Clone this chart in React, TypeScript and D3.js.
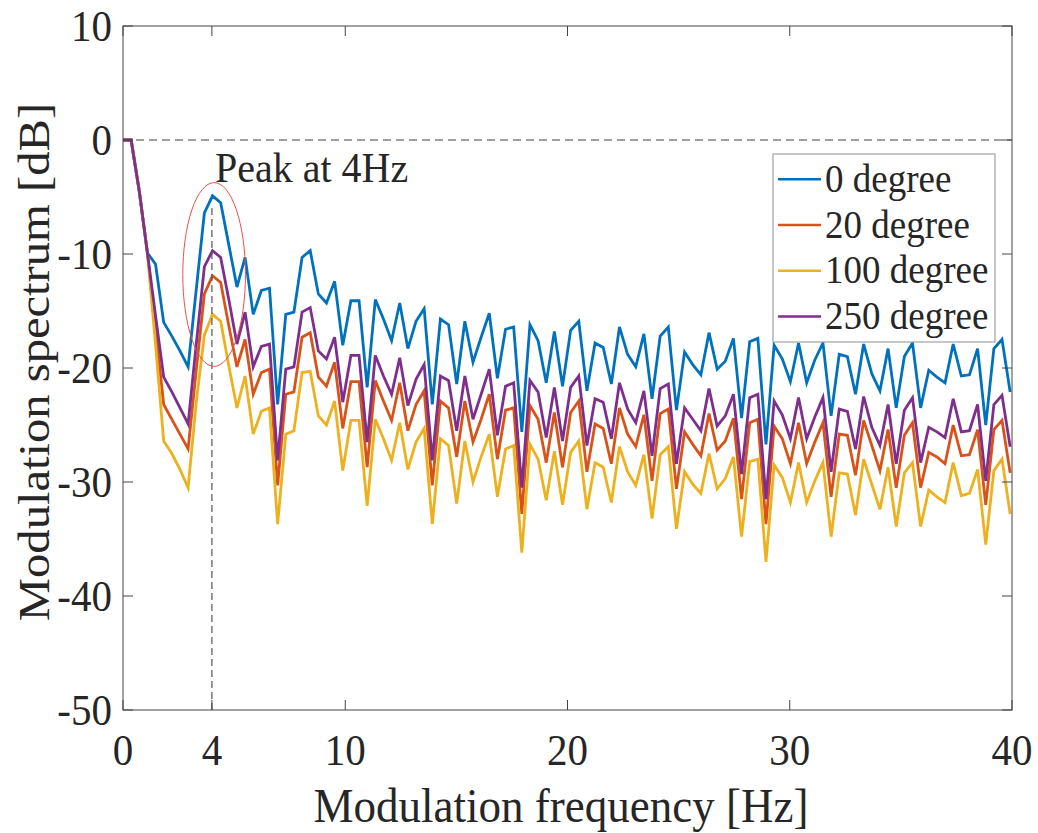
import React from "react";
import * as d3 from "d3";

// frequency bin spacing (Hz)
const DF = 0.36621;

const blue0 = [0,0,-4.5,-9.9,-10.9,-16.0,-17.2,-18.5,-19.9,-13.1,-6.4,-4.9,-5.5,-9.2,-12.9,-10.3,-15.3,-13.2,-13.0,-23.2,-15.3,-15.1,-10.3,-9.7,-13.5,-14.3,-12.4,-18.0,-14.1,-14.1,-21.7,-14.0,-15.7,-17.6,-14.3,-18.3,-15.9,-14.8,-23.2,-15.7,-16.2,-21.4,-15.9,-19.5,-17.3,-15.2,-20.9,-16.6,-16.4,-25.6,-16.2,-17.6,-21.3,-16.8,-21.6,-16.7,-15.9,-22.0,-17.8,-18.2,-21.4,-16.4,-18.8,-19.9,-17.0,-22.7,-17.2,-16.4,-23.7,-18.6,-19.7,-20.6,-16.9,-20.1,-19.4,-17.4,-24.4,-17.7,-17.4,-26.7,-18.0,-19.2,-21.2,-17.8,-21.3,-19.3,-17.8,-24.2,-18.8,-19.0,-22.3,-17.9,-20.5,-22.0,-18.3,-23.5,-19.0,-17.8,-23.5,-20.2,-20.8,-21.3,-17.9,-20.7,-20.6,-18.3,-25.0,-18.3,-17.5,-22.1];

const orange20 = [0,0,-4.5,-9.9,-16.6,-23.2,-24.5,-25.8,-27.1,-20.2,-13.5,-11.9,-12.5,-16.3,-19.9,-17.5,-22.3,-20.4,-20.1,-30.3,-22.3,-22.1,-17.3,-16.9,-20.8,-21.6,-19.5,-25.3,-21.2,-21.2,-28.7,-21.1,-22.9,-24.6,-21.3,-25.5,-23.2,-22.0,-30.3,-22.9,-23.5,-27.8,-22.9,-26.5,-24.5,-22.3,-28.0,-23.7,-23.5,-32.8,-23.3,-24.5,-28.3,-23.9,-28.7,-23.9,-22.9,-29.1,-24.9,-25.3,-28.4,-23.5,-25.8,-26.9,-24.1,-29.9,-24.0,-23.6,-30.6,-25.6,-26.7,-27.7,-24.0,-27.2,-26.4,-24.4,-31.5,-24.8,-24.5,-33.7,-25.1,-26.2,-28.4,-24.8,-28.4,-26.5,-24.8,-31.3,-25.8,-25.9,-29.4,-24.6,-26.8,-29.0,-25.4,-30.5,-25.9,-24.8,-30.5,-27.4,-27.8,-28.4,-25.0,-27.7,-27.6,-25.4,-32.0,-25.4,-24.6,-29.2];

const yellow100 = [0,0,-4.5,-9.9,-18.0,-26.4,-27.5,-28.9,-30.5,-23.0,-17.1,-15.3,-15.9,-19.8,-23.5,-20.7,-25.8,-23.8,-23.5,-33.7,-25.8,-25.5,-20.4,-20.3,-24.2,-25.0,-22.9,-29.0,-24.6,-24.6,-32.1,-24.5,-26.2,-28.1,-24.8,-28.9,-26.5,-25.3,-33.7,-26.2,-26.8,-31.9,-26.4,-30.0,-27.8,-25.8,-31.3,-27.1,-26.8,-36.2,-26.7,-28.0,-31.6,-27.3,-32.0,-27.4,-26.4,-32.4,-28.3,-28.7,-31.8,-26.9,-29.1,-30.3,-27.6,-33.2,-27.6,-26.9,-34.1,-29.1,-30.2,-31.0,-27.5,-30.6,-29.7,-27.8,-34.8,-28.2,-28.0,-37.0,-28.5,-29.6,-31.8,-28.3,-31.8,-29.9,-28.3,-34.8,-29.2,-29.3,-32.9,-28.0,-30.2,-32.4,-28.7,-33.9,-29.2,-28.3,-33.9,-30.7,-31.3,-31.8,-28.3,-31.2,-31.0,-28.9,-35.5,-29.0,-28.0,-32.8];

const purple250 = [0,0,-4.5,-9.9,-15.4,-20.8,-22.1,-23.5,-24.9,-17.9,-11.1,-9.7,-10.3,-14.0,-17.9,-15.1,-19.9,-18.1,-17.9,-28.1,-20.1,-19.9,-15.1,-14.7,-18.5,-19.2,-17.3,-23.0,-18.9,-18.9,-26.5,-18.9,-20.7,-22.3,-19.1,-23.3,-21.0,-19.7,-28.1,-20.7,-21.1,-25.5,-20.7,-24.5,-22.3,-20.1,-25.9,-21.6,-21.3,-30.5,-21.1,-22.1,-26.1,-21.7,-26.4,-21.7,-20.7,-26.8,-22.7,-23.0,-26.2,-21.3,-23.6,-24.8,-22.0,-27.7,-21.8,-21.4,-28.4,-23.5,-24.5,-25.5,-21.8,-25.1,-24.2,-22.3,-29.3,-22.6,-22.3,-31.5,-22.9,-24.1,-26.2,-22.6,-26.2,-24.3,-22.6,-29.1,-23.6,-23.8,-27.1,-22.5,-25.2,-26.8,-23.2,-28.4,-23.7,-22.6,-28.3,-25.2,-25.6,-26.1,-22.7,-25.6,-25.5,-23.2,-29.9,-23.2,-22.4,-26.9];

const seriesNames = ["0 degree", "20 degree", "100 degree", "250 degree"];
const seriesColors = ["#0072BD", "#D95319", "#EDB120", "#7E2F8E"];
const seriesValues = [blue0, orange20, yellow100, purple250];

const xTicks = [0, 4, 10, 20, 30, 40];
const yTicks = [10, 0, -10, -20, -30, -40, -50];

const peakFreq = 4;
const peakTop = -5.7;
const ellipseCenter = [4.1, -11.8];
const ellipseRadii = [1.41, 8.06];
const peakLabel = "Peak at 4Hz";

const W = 1038;
const H = 833;
const L = 123, R = 1012, T = 26, B = 710;
const SY = 1.08; // vertical stretch of text
const FONT = "'Liberation Serif', 'Times New Roman', Times, serif";
const TXT = "#262626";

export default function App() {
  const x = d3.scaleLinear().domain([0, 40]).range([L, R]);
  const y = d3.scaleLinear().domain([-50, 10]).range([B, T]);
  const line = d3
    .line<number>()
    .x((_, i) => x(i * DF))
    .y((d) => y(d));

  const tickLen = 10;

  return (
    <svg
      width={W}
      height={H}
      style={{ position: "absolute", left: 0, top: 0, background: "#fff" }}
      fontFamily={FONT}
    >
      <rect x={0} y={0} width={W} height={H} fill="#fff" />
      {/* zero reference dashed line */}
      <line x1={L} x2={R} y1={y(0)} y2={y(0)} stroke="#808080" strokeWidth={1.3} strokeDasharray="8,5" />

      {/* series */}
      {seriesValues.map((vals, k) => (
        <path
          key={k}
          d={line(vals) || ""}
          fill="none"
          stroke={seriesColors[k]}
          strokeWidth={2.8}
          strokeLinejoin="miter"
        />
      ))}

      {/* peak marker */}
      <line
        x1={x(peakFreq)}
        x2={x(peakFreq)}
        y1={y(-50)}
        y2={y(peakTop)}
        stroke="#555"
        strokeWidth={1.2}
        strokeDasharray="7,4"
      />
      <ellipse
        cx={x(ellipseCenter[0])}
        cy={y(ellipseCenter[1])}
        rx={x(ellipseCenter[0] + ellipseRadii[0]) - x(ellipseCenter[0])}
        ry={y(ellipseCenter[1] - ellipseRadii[1]) - y(ellipseCenter[1])}
        fill="none"
        stroke="#e8504a"
        strokeWidth={1}
      />
      <g transform={`translate(${x(peakFreq) + 3},182) scale(1,${SY})`}>
        <text x={0} y={0} fontSize={40} fill={TXT}>
          {peakLabel}
        </text>
      </g>

      {/* axes box */}
      <rect x={L} y={T} width={R - L} height={B - T} fill="none" stroke="#444" strokeWidth={1} />

      {/* y ticks */}
      {yTicks.map((t) => (
        <g key={"y" + t}>
          <line x1={L} x2={L + tickLen} y1={y(t)} y2={y(t)} stroke="#444" />
          <line x1={R} x2={R - tickLen} y1={y(t)} y2={y(t)} stroke="#444" />
          <g transform={`translate(112,${y(t)}) scale(1,${SY})`}>
            <text x={0} y={0} dy="0.34em" textAnchor="end" fontSize={41} fill={TXT}>
              {t}
            </text>
          </g>
        </g>
      ))}

      {/* x ticks */}
      {xTicks.map((t) => (
        <g key={"x" + t}>
          <line x1={x(t)} x2={x(t)} y1={B} y2={B - tickLen} stroke="#444" />
          <line x1={x(t)} x2={x(t)} y1={T} y2={T + tickLen} stroke="#444" />
          <g transform={`translate(${x(t)},765) scale(1,${SY})`}>
            <text x={0} y={0} textAnchor="middle" fontSize={41} fill={TXT}>
              {t}
            </text>
          </g>
        </g>
      ))}

      {/* axis labels */}
      <g transform={`translate(561,822) scale(1,${SY})`}>
        <text x={0} y={0} textAnchor="middle" fontSize={45} fill={TXT}>
          Modulation frequency [Hz]
        </text>
      </g>
      <g transform={`translate(49,362) scale(1,${SY}) rotate(-90)`}>
        <text x={0} y={0} textAnchor="middle" fontSize={45} fill={TXT}>
          Modulation spectrum [dB]
        </text>
      </g>

      {/* legend */}
      <rect x={773} y={154} width={222} height={188} fill="#fff" stroke="#a0a0a0" strokeWidth={1.2} />
      {seriesNames.map((name, k) => {
        const base = 192 + k * 45.7;
        return (
          <g key={name}>
            <line x1={778} x2={821} y1={base - 12.7} y2={base - 12.7} stroke={seriesColors[k]} strokeWidth={2.5} />
            <g transform={`translate(825,${base}) scale(1,${SY})`}>
              <text x={0} y={0} fontSize={37} fill={TXT}>
                {name}
              </text>
            </g>
          </g>
        );
      })}
    </svg>
  );
}
